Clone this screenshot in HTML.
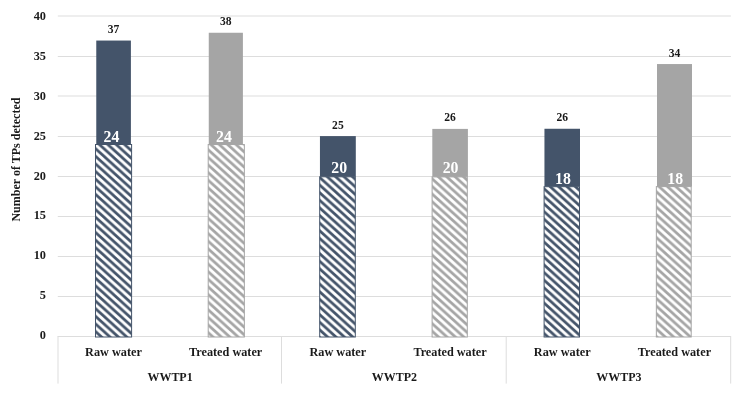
<!DOCTYPE html>
<html><head><meta charset="utf-8"><title>Chart</title>
<style>
html,body{margin:0;padding:0;background:#fff;}
body{width:742px;height:397px;overflow:hidden;}
svg{display:block;}
text{font-family:"Liberation Serif",serif;font-weight:bold;fill:#1a1a1a;}
.t{font-size:12.6px;}
.k{font-size:12.3px;}
.d{font-size:11.6px;}
.w{font-size:15.8px;fill:#fff;}
</style></head><body>
<svg width="742" height="397" viewBox="0 0 742 397">
<defs><pattern id="p0" width="8.4" height="7.62" patternUnits="userSpaceOnUse" x="96.40" y="149.40">
<rect width="8.4" height="7.62" fill="#fff"/>
<path d="M-8.4 -7.62 L16.8 15.24 M0 -7.62 L25.200000000000003 15.24 M-16.8 -7.62 L8.4 15.24" stroke="#44546A" stroke-width="2.7"/>
</pattern><pattern id="p1" width="8.4" height="7.62" patternUnits="userSpaceOnUse" x="208.50" y="150.00">
<rect width="8.4" height="7.62" fill="#fff"/>
<path d="M-8.4 -7.62 L16.8 15.24 M0 -7.62 L25.200000000000003 15.24 M-16.8 -7.62 L8.4 15.24" stroke="#A5A5A5" stroke-width="2.7"/>
</pattern><pattern id="p2" width="8.4" height="7.62" patternUnits="userSpaceOnUse" x="320.10" y="177.80">
<rect width="8.4" height="7.62" fill="#fff"/>
<path d="M-8.4 -7.62 L16.8 15.24 M0 -7.62 L25.200000000000003 15.24 M-16.8 -7.62 L8.4 15.24" stroke="#44546A" stroke-width="2.7"/>
</pattern><pattern id="p3" width="8.4" height="7.62" patternUnits="userSpaceOnUse" x="432.40" y="179.00">
<rect width="8.4" height="7.62" fill="#fff"/>
<path d="M-8.4 -7.62 L16.8 15.24 M0 -7.62 L25.200000000000003 15.24 M-16.8 -7.62 L8.4 15.24" stroke="#A5A5A5" stroke-width="2.7"/>
</pattern><pattern id="p4" width="8.4" height="7.62" patternUnits="userSpaceOnUse" x="544.30" y="196.50">
<rect width="8.4" height="7.62" fill="#fff"/>
<path d="M-8.4 -7.62 L16.8 15.24 M0 -7.62 L25.200000000000003 15.24 M-16.8 -7.62 L8.4 15.24" stroke="#44546A" stroke-width="2.7"/>
</pattern><pattern id="p5" width="8.4" height="7.62" patternUnits="userSpaceOnUse" x="656.70" y="192.05">
<rect width="8.4" height="7.62" fill="#fff"/>
<path d="M-8.4 -7.62 L16.8 15.24 M0 -7.62 L25.200000000000003 15.24 M-16.8 -7.62 L8.4 15.24" stroke="#A5A5A5" stroke-width="2.7"/>
</pattern></defs>
<rect width="742" height="397" fill="#fff"/>
<line x1="57.8" x2="730.9" y1="336.5" y2="336.5" stroke="#DDDDDD" stroke-width="1"/>
<line x1="57.8" x2="730.9" y1="296.5" y2="296.5" stroke="#DDDDDD" stroke-width="1"/>
<line x1="57.8" x2="730.9" y1="256.5" y2="256.5" stroke="#DDDDDD" stroke-width="1"/>
<line x1="57.8" x2="730.9" y1="216.5" y2="216.5" stroke="#DDDDDD" stroke-width="1"/>
<line x1="57.8" x2="730.9" y1="176.5" y2="176.5" stroke="#DDDDDD" stroke-width="1"/>
<line x1="57.8" x2="730.9" y1="136.5" y2="136.5" stroke="#DDDDDD" stroke-width="1"/>
<line x1="57.8" x2="730.9" y1="96.0" y2="96.0" stroke="#DDDDDD" stroke-width="1"/>
<line x1="57.8" x2="730.9" y1="56.5" y2="56.5" stroke="#DDDDDD" stroke-width="1"/>
<line x1="57.8" x2="730.9" y1="16.0" y2="16.0" stroke="#DDDDDD" stroke-width="1"/>
<line x1="58.00" x2="58.00" y1="336" y2="383.6" stroke="#DDDDDD" stroke-width="1"/>
<line x1="281.50" x2="281.50" y1="336" y2="383.6" stroke="#DDDDDD" stroke-width="1"/>
<line x1="506.20" x2="506.20" y1="336" y2="383.6" stroke="#DDDDDD" stroke-width="1"/>
<line x1="730.70" x2="730.70" y1="336" y2="383.6" stroke="#DDDDDD" stroke-width="1"/>
<text x="46" y="339.15" text-anchor="end" class="k">0</text>
<text x="46" y="299.25" text-anchor="end" class="k">5</text>
<text x="46" y="259.35" text-anchor="end" class="k">10</text>
<text x="46" y="219.45" text-anchor="end" class="k">15</text>
<text x="46" y="179.55" text-anchor="end" class="k">20</text>
<text x="46" y="139.65" text-anchor="end" class="k">25</text>
<text x="46" y="99.75" text-anchor="end" class="k">30</text>
<text x="46" y="59.85" text-anchor="end" class="k">35</text>
<text x="46" y="19.95" text-anchor="end" class="k">40</text>
<rect x="96.27" y="40.55" width="34.63" height="103.95" fill="#44546A"/>
<rect x="95.50" y="144.50" width="36.10" height="192.50" fill="url(#p0)" stroke="#44546A" stroke-width="1"/>
<text transform="translate(113.59,33.05) scale(1,1.06)" text-anchor="middle" class="d">37</text>
<text x="111.40" y="141.80" text-anchor="middle" class="w">24</text>
<text x="113.47" y="356.2" text-anchor="middle" class="t" textLength="56.8" lengthAdjust="spacingAndGlyphs">Raw water</text>
<rect x="208.76" y="32.76" width="34.14" height="111.79" fill="#A5A5A5"/>
<rect x="208.20" y="144.55" width="36.15" height="192.45" fill="url(#p1)" stroke="#A5A5A5" stroke-width="1"/>
<text transform="translate(225.83,25.26) scale(1,1.06)" text-anchor="middle" class="d">38</text>
<text x="223.90" y="141.50" text-anchor="middle" class="w">24</text>
<text x="225.66" y="356.2" text-anchor="middle" class="t" textLength="73.3" lengthAdjust="spacingAndGlyphs">Treated water</text>
<rect x="319.95" y="136.10" width="35.85" height="40.70" fill="#44546A"/>
<rect x="319.70" y="176.80" width="35.60" height="160.20" fill="url(#p2)" stroke="#44546A" stroke-width="1"/>
<text transform="translate(337.88,128.60) scale(1,1.06)" text-anchor="middle" class="d">25</text>
<text x="339.20" y="172.90" text-anchor="middle" class="w">20</text>
<text x="337.85" y="356.2" text-anchor="middle" class="t" textLength="56.8" lengthAdjust="spacingAndGlyphs">Raw water</text>
<rect x="432.30" y="128.90" width="35.60" height="48.00" fill="#A5A5A5"/>
<rect x="432.10" y="176.90" width="35.20" height="160.10" fill="url(#p3)" stroke="#A5A5A5" stroke-width="1"/>
<text transform="translate(450.10,121.40) scale(1,1.06)" text-anchor="middle" class="d">26</text>
<text x="450.60" y="172.80" text-anchor="middle" class="w">20</text>
<text x="450.04" y="356.2" text-anchor="middle" class="t" textLength="73.3" lengthAdjust="spacingAndGlyphs">Treated water</text>
<rect x="544.45" y="128.76" width="35.55" height="57.94" fill="#44546A"/>
<rect x="544.10" y="186.70" width="35.40" height="150.30" fill="url(#p4)" stroke="#44546A" stroke-width="1"/>
<text transform="translate(562.23,121.26) scale(1,1.06)" text-anchor="middle" class="d">26</text>
<text x="563.00" y="183.50" text-anchor="middle" class="w">18</text>
<text x="562.23" y="356.2" text-anchor="middle" class="t" textLength="56.8" lengthAdjust="spacingAndGlyphs">Raw water</text>
<rect x="657.00" y="64.06" width="35.00" height="122.54" fill="#A5A5A5"/>
<rect x="656.35" y="186.60" width="34.85" height="150.40" fill="url(#p5)" stroke="#A5A5A5" stroke-width="1"/>
<text transform="translate(674.50,56.56) scale(1,1.06)" text-anchor="middle" class="d">34</text>
<text x="675.20" y="183.60" text-anchor="middle" class="w">18</text>
<text x="674.42" y="356.2" text-anchor="middle" class="t" textLength="73.3" lengthAdjust="spacingAndGlyphs">Treated water</text>
<text x="170.06" y="380.6" text-anchor="middle" class="t" textLength="45.2" lengthAdjust="spacingAndGlyphs">WWTP1</text>
<text x="394.44" y="380.6" text-anchor="middle" class="t" textLength="45.2" lengthAdjust="spacingAndGlyphs">WWTP2</text>
<text x="618.83" y="380.6" text-anchor="middle" class="t" textLength="45.2" lengthAdjust="spacingAndGlyphs">WWTP3</text>
<text transform="translate(20.3,159.6) rotate(-90)" text-anchor="middle" class="t" textLength="124" lengthAdjust="spacingAndGlyphs">Number of TPs detected</text>
</svg>
</body></html>
